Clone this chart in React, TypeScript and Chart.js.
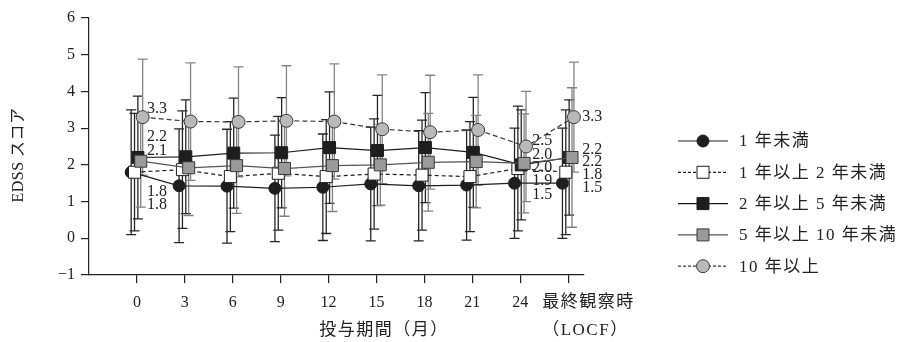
import React, { useEffect, useRef } from 'react';
import { Chart, registerables } from 'chart.js';

Chart.register(...registerables);

// ---------- data ----------
const categories = ['0', '3', '6', '9', '12', '15', '18', '21', '24', ''];
const lastCategoryLine1 = '最終観察時';
const lastCategoryLine2 = '（LOCF）';
const seriesNames = ['1 年未満', '1 年以上 2 年未満', '2 年以上 5 年未満', '5 年以上 10 年未満', '10 年以上'];
const yTickValues = [-1, 0, 1, 2, 3, 4, 5, 6];
const xAxisTitle = '投与期間（月）';
const yAxisTitle = 'EDSS スコア';

const meanUnder1 = [1.8, 1.43, 1.42, 1.36, 1.39, 1.48, 1.43, 1.45, 1.5, 1.5];
const sdUnder1 = [1.7, 1.55, 1.55, 1.45, 1.45, 1.55, 1.5, 1.5, 1.5, 1.5];
const mean1to2 = [1.8, 1.87, 1.68, 1.77, 1.68, 1.75, 1.72, 1.68, 1.9, 1.8];
const sd1to2 = [1.6, 1.6, 1.5, 1.55, 1.55, 1.5, 1.5, 1.5, 1.7, 1.7];
const mean2to5 = [2.2, 2.22, 2.32, 2.33, 2.47, 2.39, 2.47, 2.34, 2.0, 2.2];
const sd2to5 = [1.67, 1.55, 1.5, 1.5, 1.52, 1.5, 1.5, 1.5, 1.5, 1.57];
const mean5to10 = [2.1, 1.92, 1.98, 1.9, 1.98, 2.0, 2.07, 2.09, 2.04, 2.2];
const sd5to10 = [1.25, 1.3, 1.3, 1.3, 1.25, 1.1, 1.33, 1.26, 1.35, 1.9];
const mean10plus = [3.3, 3.18, 3.17, 3.2, 3.18, 2.97, 2.89, 2.95, 2.5, 3.3];
const sd10plus = [1.58, 1.6, 1.5, 1.5, 1.57, 1.48, 1.55, 1.5, 1.5, 1.5];
const labeledIndices = [0, 8, 9];

// ---------- styles ----------
const STYLES = [
  { point: 'circle', r: 6, fill: '#1e1e1e', stroke: '#1e1e1e', line: '#1e1e1e', dash: [] as number[], legDash: [] as number[], bar: '#262626', dx: -0.12 },
  { point: 'rect', r: 8.5, fill: '#ffffff', stroke: '#1e1e1e', line: '#1e1e1e', dash: [4, 3], legDash: [3, 2], bar: '#262626', dx: -0.05 },
  { point: 'rect', r: 8.5, fill: '#1e1e1e', stroke: '#1e1e1e', line: '#1e1e1e', dash: [] as number[], legDash: [] as number[], bar: '#262626', dx: 0.02 },
  { point: 'rect', r: 8.5, fill: '#9a9a9a', stroke: '#3a3a3a', line: '#555555', dash: [] as number[], legDash: [] as number[], bar: '#808080', dx: 0.08 },
  { point: 'circle', r: 6.5, fill: '#b9b9b9', stroke: '#3a3a3a', line: '#3a3a3a', dash: [5, 3], legDash: [3, 2], bar: '#858585', dx: 0.12 },
];
// per-series label vertical offsets (px) at labeled indices
const LABEL_DY = [
  [33, 12, 5],
  [20, 12, 3],
  [-21, 3, 4],
  [-10, -9, -8],
  [-8, -6, 0],
];
const LABEL_DX = [10, 12, 14];
const SERIF = '"Liberation Serif", "Noto Sans CJK JP", serif';
const INK = '#222222';

export default function App() {
  const ref = useRef<HTMLCanvasElement>(null);

  useEffect(() => {
    const canvas = ref.current!;
    const means = [meanUnder1, mean1to2, mean2to5, mean5to10, mean10plus];
    const sds = [sdUnder1, sd1to2, sd2to5, sd5to10, sd10plus];

    const drawMarker = (ctx: CanvasRenderingContext2D, s: number, cx: number, cy: number) => {
      const st = STYLES[s];
      ctx.save();
      ctx.setLineDash([]);
      ctx.fillStyle = st.fill;
      ctx.strokeStyle = st.stroke;
      ctx.lineWidth = 1;
      ctx.beginPath();
      if (st.point === 'circle') {
        ctx.arc(cx, cy, st.r, 0, Math.PI * 2);
      } else {
        const h = st.r * Math.SQRT1_2;
        ctx.rect(cx - h, cy - h, 2 * h, 2 * h);
      }
      ctx.fill();
      ctx.stroke();
      ctx.restore();
    };

    const overlay = {
      id: 'overlay',
      beforeDatasetsDraw(chart: any) {
        const { ctx } = chart;
        const xs = chart.scales.x;
        const ys = chart.scales.y;
        ctx.save();
        ctx.lineWidth = 1.3;
        const cap = 5;
        means.forEach((m, s) => {
          ctx.strokeStyle = STYLES[s].bar;
          m.forEach((v, j) => {
            const px = xs.getPixelForValue(j + STYLES[s].dx);
            const top = ys.getPixelForValue(v + sds[s][j]);
            const bot = ys.getPixelForValue(v - sds[s][j]);
            ctx.beginPath();
            ctx.moveTo(px, top);
            ctx.lineTo(px, bot);
            ctx.moveTo(px - cap, top);
            ctx.lineTo(px + cap, top);
            ctx.moveTo(px - cap, bot);
            ctx.lineTo(px + cap, bot);
            ctx.stroke();
          });
        });
        ctx.restore();
      },
      afterDraw(chart: any) {
        const { ctx } = chart;
        const xs = chart.scales.x;
        const ys = chart.scales.y;
        ctx.save();
        ctx.fillStyle = INK;
        ctx.textBaseline = 'middle';

        // value labels
        ctx.font = '16px ' + SERIF;
        ctx.textAlign = 'left';
        labeledIndices.forEach((idx, k) => {
          const cx = xs.getPixelForValue(idx);
          means.forEach((m, s) => {
            const py = ys.getPixelForValue(m[idx]);
            ctx.fillText(m[idx].toFixed(1), cx + LABEL_DX[k], py + LABEL_DY[s][k]);
          });
        });

        // last category two-line label
        const lastX = xs.getPixelForValue(categories.length - 1);
        (ctx as any).letterSpacing = '1.5px';
        ctx.font = '17px ' + SERIF;
        ctx.textAlign = 'left';
        ctx.fillText(lastCategoryLine1, lastX - 26, 303);
        ctx.fillText(lastCategoryLine2, lastX - 26, 331);

        // x title
        ctx.textAlign = 'center';
        ctx.fillText(xAxisTitle, 384, 331);

        // y title
        ctx.save();
        ctx.translate(19, 155);
        ctx.rotate(-Math.PI / 2);
        (ctx as any).letterSpacing = '0.5px';
        ctx.font = '16px ' + SERIF;
        ctx.fillText(yAxisTitle, 0, 0);
        ctx.restore();

        // legend
        (ctx as any).letterSpacing = '1.5px';
        ctx.font = '17px ' + SERIF;
        ctx.textAlign = 'left';
        seriesNames.forEach((name, s) => {
          const ly = 141 + s * 31.3;
          ctx.save();
          ctx.strokeStyle = STYLES[s].line;
          ctx.lineWidth = 1.2;
          ctx.setLineDash(STYLES[s].legDash);
          ctx.beginPath();
          ctx.moveTo(678, ly);
          ctx.lineTo(728, ly);
          ctx.stroke();
          ctx.restore();
          drawMarker(ctx, s, 703, ly);
          ctx.fillStyle = INK;
          ctx.fillText(name, 739, ly + 1);
        });
        ctx.restore();
      },
    };

    const datasets = means.map((m, s) => ({
      label: seriesNames[s],
      data: m.map((v, j) => ({ x: j + STYLES[s].dx, y: v })),
      borderColor: STYLES[s].line,
      borderWidth: 1.2,
      borderDash: STYLES[s].dash,
      pointStyle: STYLES[s].point,
      pointRadius: STYLES[s].r,
      pointBackgroundColor: STYLES[s].fill,
      pointBorderColor: STYLES[s].stroke,
      pointBorderWidth: 1,
      tension: 0,
      fill: false,
      clip: false,
      order: means.length - 1 - s,
    }));

    const chart = new Chart(canvas, {
      type: 'line',
      data: { datasets: datasets as any },
      plugins: [overlay],
      options: {
        animation: false,
        responsive: false,
        events: [],
        layout: { padding: { left: 0, right: 330, top: 18, bottom: 0 } },
        plugins: { legend: { display: false }, tooltip: { enabled: false } },
        scales: {
          x: {
            type: 'linear',
            min: -1,
            max: 9.33,
            afterBuildTicks: (s: any) => {
              s.ticks = categories.map((_, i) => ({ value: i }));
            },
            afterFit: (s: any) => {
              s.height = 67;
            },
            ticks: {
              autoSkip: false,
              maxRotation: 0,
              padding: 10,
              color: INK,
              font: { family: SERIF, size: 16 },
              callback: (v: any) => categories[v] ?? '',
            },
            grid: { drawOnChartArea: false, drawTicks: true, tickLength: 8, color: INK, lineWidth: 1.2 },
            border: { display: true, color: INK, width: 1.2 },
          },
          y: {
            type: 'linear',
            min: -1,
            max: 6,
            afterBuildTicks: (s: any) => {
              s.ticks = yTickValues.map((v) => ({ value: v }));
            },
            afterFit: (s: any) => {
              s.width = 89;
            },
            ticks: {
              padding: 6,
              color: INK,
              font: { family: SERIF, size: 16 },
              callback: (v: any) => (v < 0 ? '\u2212' + Math.abs(v) : String(v)),
            },
            grid: { drawOnChartArea: false, drawTicks: true, tickLength: 8, color: INK, lineWidth: 1.2 },
            border: { display: true, color: INK, width: 1.2 },
          },
        },
      },
    });
    return () => chart.destroy();
  }, []);

  return (
    <div style={{ position: 'absolute', left: 0, top: 0, width: 914, height: 342, background: '#fff' }}>
      <canvas ref={ref} width={914} height={342} style={{ display: 'block' }} />
    </div>
  );
}
